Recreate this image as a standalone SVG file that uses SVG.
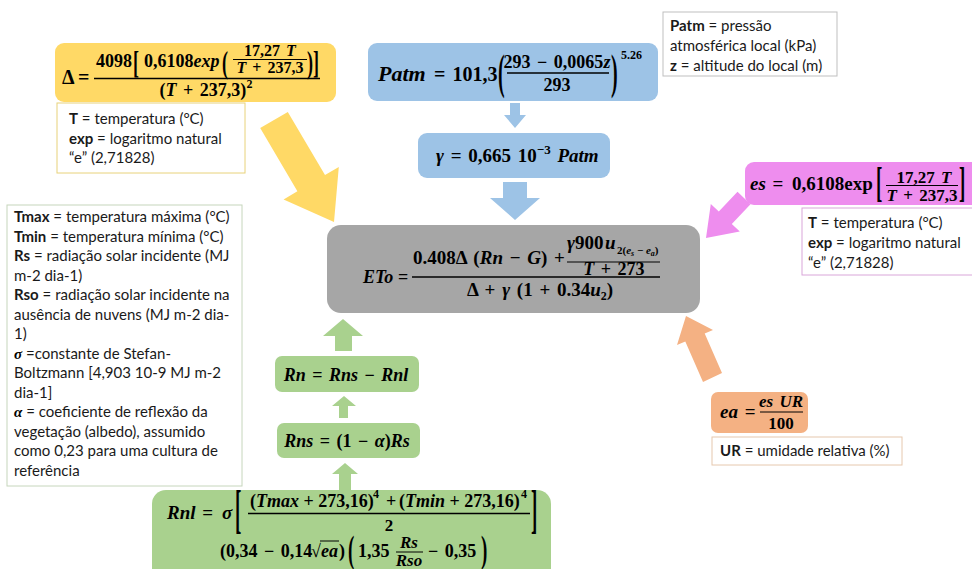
<svg xmlns="http://www.w3.org/2000/svg" width="972" height="569" viewBox="0 0 972 569">
<style>
.m{font-family:"Liberation Serif","DejaVu Serif",serif;font-weight:bold;fill:#000;word-spacing:2px}
.i{font-style:italic}
.n{font-style:normal}
.t{font-family:Lato,"Liberation Sans",sans-serif;font-size:15px;fill:#1a1a1a}
.b{font-weight:bold}
.bar{stroke:#000;stroke-width:1.3}
.bar1{stroke:#000;stroke-width:1}
</style>
<rect width="972" height="569" fill="#fff"/>
<g id="connectors">
<polygon fill="#FFD966" points="260.2,128.1 287.8,111.9 325,175.1 338.8,167 334,222 283.6,199.4 297.4,191.3"/>
<polygon fill="#9DC3E6" points="510,103 520,103 520,115 526,115 515,128 504,115 510,115"/>
<polygon fill="#9DC3E6" points="503,182 527,182 527,198 540,198 515,220 490,198 503,198"/>
<polygon fill="#EE8DEE" points="737.5,191.8 750.5,204.2 731.8,223.9 739.8,231.5 706,238 710.8,203.9 718.8,211.5"/>
<polygon fill="#F4B183" points="703,382 685.3,341.5 677,345 686,316 713,330 704.7,333.5 722,373"/>
<polygon fill="#A9D18E" points="343,319 363,336 352,336 352,351 335,351 335,336 323,336"/>
<polygon fill="#A9D18E" points="344,396 356,406 348,406 348,418 339,418 339,406 332,406"/>
<polygon fill="#A9D18E" points="345,463 358,474 351,474 351,490 339,490 339,474 332,474"/>
</g>
<g id="delta">
<rect x="55" y="43" width="281" height="59" rx="9" fill="#FFD966"/>
<text class="m" x="62" y="84" font-size="20">Δ</text>
<text class="m" x="78" y="84" font-size="20">=</text>
<line class="bar" x1="94" y1="78.5" x2="320" y2="78.5"/>
<text class="m" x="96" y="67" font-size="18">4098</text>
<text class="m" font-size="18" transform="translate(133,73) scale(1,1.7)">[</text>
<text class="m" x="144" y="67" font-size="18">0,6108<tspan class="i">exp</tspan></text>
<text class="m" font-size="18" transform="translate(222,73) scale(1,1.7)">(</text>
<text class="m" x="270" y="56" font-size="16" text-anchor="middle">17,27 <tspan class="i">T</tspan></text>
<line class="bar1" x1="233" y1="59.5" x2="307" y2="59.5"/>
<text class="m" x="270" y="73" font-size="16" text-anchor="middle"><tspan class="i">T</tspan> + 237,3</text>
<text class="m" font-size="18" transform="translate(307,73) scale(1,1.7)">)</text>
<text class="m" font-size="18" transform="translate(313,73) scale(1,1.7)">]</text>
<text class="m" x="206" y="96" font-size="18" text-anchor="middle">(<tspan class="i">T</tspan> + 237,3)<tspan font-size="12" dy="-8">2</tspan></text>
</g>
<g id="delta-legend">
<rect x="57" y="103" width="188" height="70" fill="#fff" stroke="#E8D27A"/>
<text class="t" x="69" y="124"><tspan class="b">T</tspan> = temperatura (°C)</text>
<text class="t" x="69" y="143.5"><tspan class="b">exp</tspan> = logaritmo natural</text>
<text class="t" x="69" y="163">“e” (2,71828)</text>
</g>
<g id="patm">
<rect x="368" y="43" width="290" height="58" rx="9" fill="#9DC3E6"/>
<text class="m i" x="378" y="81" font-size="22">Patm</text>
<text class="m" x="434" y="81" font-size="20">= 101,3</text>
<text class="m" font-size="20" transform="translate(498,88) scale(1,2.4)">(</text>
<text class="m" x="557" y="68" font-size="18" text-anchor="middle">293 − 0,0065<tspan class="i">z</tspan></text>
<line class="bar" x1="507" y1="73" x2="609" y2="73"/>
<text class="m" x="557" y="91" font-size="18" text-anchor="middle">293</text>
<text class="m" font-size="20" transform="translate(611,88) scale(1,2.4)">)</text>
<text class="m" x="621" y="59" font-size="12">5.26</text>
</g>
<g id="patm-legend">
<rect x="663" y="12" width="174" height="64" fill="#fff" stroke="#BFBFBF"/>
<text class="t" x="670" y="31"><tspan class="b">Patm</tspan> = pressão</text>
<text class="t" x="670" y="51">atmosférica local (kPa)</text>
<text class="t" x="670" y="71"><tspan class="b">z</tspan> = altitude do local (m)</text>
</g>
<g id="gamma">
<rect x="418" y="133" width="192" height="45" rx="9" fill="#9DC3E6"/>
<text class="m" x="436" y="162" font-size="19"><tspan class="i">γ</tspan> = 0,665 10<tspan font-size="13" dy="-8">−3</tspan><tspan dy="8" class="i"> Patm</tspan></text>
</g>
<g id="eto">
<rect x="327" y="225" width="373" height="88" rx="14" fill="#A6A6A6"/>
<text class="m i" x="363" y="283" font-size="18">ETo</text>
<text class="m" x="398" y="283" font-size="18">=</text>
<line class="bar" x1="412" y1="277" x2="660" y2="277"/>
<text class="m" x="413" y="264" font-size="19">0.408Δ (<tspan class="i">Rn</tspan> − <tspan class="i">G</tspan>) +</text>
<text class="m" x="567" y="249" font-size="19"><tspan class="i">γ</tspan>900</text>
<text class="m i" x="605" y="249" font-size="19">u</text>
<text class="m" x="617" y="254" font-size="11" style="word-spacing:0">2(<tspan class="i">e</tspan><tspan font-size="8" dy="2" class="i">s</tspan><tspan dy="-2"> − </tspan><tspan class="i">e</tspan><tspan font-size="8" dy="2" class="i">a</tspan><tspan dy="-2">)</tspan></text>
<line class="bar1" x1="567" y1="262" x2="660" y2="262"/>
<text class="m" x="614" y="275" font-size="18" text-anchor="middle"><tspan class="i">T</tspan> + 273</text>
<text class="m" x="467" y="296" font-size="19">Δ + <tspan class="i">γ</tspan> (1 + 0.34<tspan class="i">u</tspan><tspan font-size="12" dy="4">2</tspan><tspan dy="-4">)</tspan></text>
</g>
<g id="es">
<rect x="745" y="162" width="240" height="43" rx="9" fill="#EE8DEE"/>
<text class="m" x="750" y="190" font-size="19"><tspan class="i">es</tspan> =</text>
<text class="m" x="792" y="190" font-size="19">0,6108exp</text>
<text class="m" font-size="19" transform="translate(876,196) scale(1,2.2)">[</text>
<text class="m" x="924" y="183" font-size="17" text-anchor="middle">17,27 <tspan class="i">T</tspan></text>
<line class="bar1" x1="886" y1="185.5" x2="958" y2="185.5"/>
<text class="m" x="922" y="201" font-size="17" text-anchor="middle"><tspan class="i">T</tspan> + 237,3</text>
<text class="m" font-size="19" transform="translate(959,196) scale(1,2.2)">]</text>
</g>
<g id="es-legend">
<rect x="802" y="208" width="175" height="67" fill="#fff" stroke="#D9A6D9"/>
<text class="t" x="808" y="228"><tspan class="b">T</tspan> = temperatura (°C)</text>
<text class="t" x="808" y="248"><tspan class="b">exp</tspan> = logaritmo natural</text>
<text class="t" x="808" y="268">“e” (2,71828)</text>
</g>
<g id="radiation-legend">
<rect x="7" y="205" width="235" height="281" fill="#fff" stroke="#C6D6BC"/>
<text class="t" x="14" y="222"><tspan class="b">Tmax</tspan> = temperatura máxima (°C)</text>
<text class="t" x="14" y="241.5"><tspan class="b">Tmin</tspan> = temperatura mínima (°C)</text>
<text class="t" x="14" y="261"><tspan class="b">Rs</tspan> = radiação solar incidente (MJ</text>
<text class="t" x="14" y="280.5">m-2 dia-1)</text>
<text class="t" x="14" y="300"><tspan class="b">Rso</tspan> = radiação solar incidente na</text>
<text class="t" x="14" y="319.5">ausência de nuvens (MJ m-2 dia-</text>
<text class="t" x="14" y="339">1)</text>
<text class="t" x="14" y="358.5"><tspan class="m i">σ</tspan> =constante de Stefan-</text>
<text class="t" x="14" y="378">Boltzmann [4,903 10-9 MJ m-2</text>
<text class="t" x="14" y="397.5">dia-1]</text>
<text class="t" x="14" y="417"><tspan class="m i">α</tspan> = coeficiente de reflexão da</text>
<text class="t" x="14" y="436.5">vegetação (albedo), assumido</text>
<text class="t" x="14" y="456">como 0,23 para uma cultura de</text>
<text class="t" x="14" y="475.5">referência</text>
</g>
<g id="rn">
<rect x="275" y="356" width="144" height="36" rx="7" fill="#A9D18E"/>
<text class="m i" x="346" y="381" font-size="18" text-anchor="middle">Rn <tspan class="n">=</tspan> Rns <tspan class="n">−</tspan> Rnl</text>
</g>
<g id="rns">
<rect x="277" y="423" width="143" height="35" rx="7" fill="#A9D18E"/>
<text class="m" x="347" y="447" font-size="18" text-anchor="middle"><tspan class="i">Rns</tspan> = (1 − <tspan class="i">α</tspan>)<tspan class="i">Rs</tspan></text>
</g>
<g id="rnl">
<rect x="152" y="490" width="399" height="95" rx="14" fill="#A9D18E"/>
<text class="m" x="167" y="519" font-size="19"><tspan class="i">Rnl</tspan> =</text>
<text class="m i" x="222" y="519" font-size="19">σ</text>
<text class="m" font-size="19" transform="translate(235,527) scale(1,2.8)">[</text>
<text class="m" x="250" y="507" font-size="18" style="word-spacing:0">(<tspan class="i">Tmax</tspan> + 273,16)</text>
<text class="m" x="373" y="498" font-size="12">4</text>
<text class="m" x="386" y="507" font-size="18">+</text>
<text class="m" x="399" y="507" font-size="18" style="word-spacing:0">(<tspan class="i">Tmin</tspan> + 273,16)</text>
<text class="m" x="521" y="498" font-size="12">4</text>
<line class="bar" x1="248" y1="513.5" x2="530" y2="513.5"/>
<text class="m" x="389" y="531" font-size="17" text-anchor="middle">2</text>
<text class="m" font-size="19" transform="translate(531,527) scale(1,2.8)">]</text>
<text class="m" x="220" y="557" font-size="18">(0,34 − 0,14</text>
<text class="m" x="311" y="557" font-size="18">√</text>
<text class="m i" x="321" y="557" font-size="18">ea</text>
<line class="bar1" x1="320" y1="541" x2="339" y2="541"/>
<text class="m" x="339" y="557" font-size="18">)</text>
<text class="m" font-size="19" transform="translate(348,562) scale(1,1.95)">(</text>
<text class="m" x="358" y="557" font-size="18">1,35</text>
<text class="m i" x="409" y="548" font-size="17" text-anchor="middle">Rs</text>
<line class="bar1" x1="396" y1="552" x2="423" y2="552"/>
<text class="m i" x="409" y="566" font-size="17" text-anchor="middle">Rso</text>
<text class="m" x="428" y="557" font-size="18">− 0,35</text>
<text class="m" font-size="19" transform="translate(481,562) scale(1,1.95)">)</text>
</g>
<g id="ea">
<rect x="711" y="392" width="97" height="41" rx="7" fill="#F4B183"/>
<text class="m" x="720" y="418" font-size="19"><tspan class="i">ea</tspan> =</text>
<text class="m i" x="781" y="407" font-size="17" text-anchor="middle">es UR</text>
<line class="bar1" x1="760" y1="412" x2="803" y2="412"/>
<text class="m" x="781" y="429" font-size="17" text-anchor="middle">100</text>
</g>
<g id="ea-legend">
<rect x="712" y="437" width="190" height="28" fill="#fff" stroke="#E6C8AE"/>
<text class="t" x="720" y="456"><tspan class="b">UR</tspan> = umidade relativa (%)</text>
</g>
</svg>
